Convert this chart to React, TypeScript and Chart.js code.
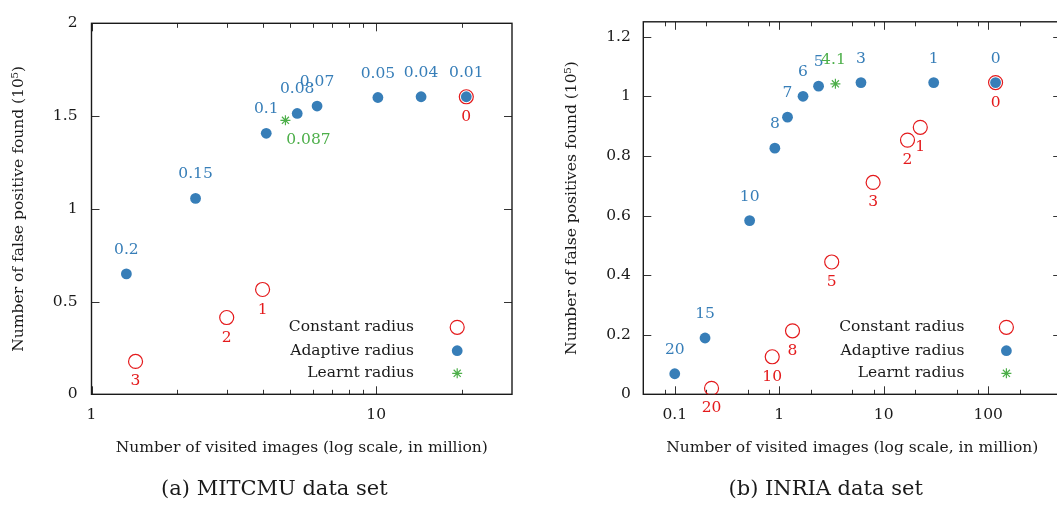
import React, { useEffect, useRef } from 'react';
import { Chart, registerables } from 'chart.js';

Chart.register(...registerables);

const FONT = 'DejaVu Serif';
const BLUE = '#377eb8';
const RED = '#e41a1c';
const GREEN = '#4daf4a';
const INK = '#1a1a1a';

// ---------- (a) MITCMU data set ----------
const aConstLabels = ['3', '2', '1', '0'];
const aConstX = [1.428, 2.985, 3.99, 20.73];
const aConstY = [0.177, 0.414, 0.565, 1.604];

const aAdaptLabels = ['0.2', '0.15', '0.1', '0.08', '0.07', '0.05', '0.04', '0.01'];
const aAdaptX = [1.326, 2.32, 4.11, 5.28, 6.2, 10.14, 14.38, 20.73];
const aAdaptY = [0.649, 1.056, 1.407, 1.514, 1.554, 1.6, 1.604, 1.604];

const aLearntLabels = ['0.087'];
const aLearntX = [4.8];
const aLearntY = [1.477];

const aXMajor = [1, 10];
const aXMinor = [2, 3, 4, 5, 6, 7, 8, 9, 20];
const aYTicks = [0, 0.5, 1, 1.5, 2];

// ---------- (b) INRIA data set ----------
const bConstLabels = ['20', '10', '8', '5', '3', '2', '1', '0'];
const bConstX = [0.225, 0.857, 1.34, 3.18, 7.92, 16.9, 22.4, 117.7];
const bConstY = [0.02, 0.126, 0.213, 0.444, 0.711, 0.853, 0.896, 1.046];

const bAdaptLabels = ['20', '15', '10', '8', '7', '6', '5', '3', '1', '0'];
const bAdaptX = [0.1, 0.195, 0.521, 0.908, 1.2, 1.69, 2.38, 6.06, 30.1, 117.7];
const bAdaptY = [0.069, 0.189, 0.583, 0.826, 0.93, 1.0, 1.034, 1.046, 1.046, 1.046];

const bLearntLabels = ['4.1'];
const bLearntX = [3.45];
const bLearntY = [1.042];

const bXMajor = [0.1, 1, 10, 100];
const bXMinor = [0.08, 0.2, 0.5, 0.8, 2, 5, 8, 20, 50, 80, 200];
const bYTicks = [0, 0.2, 0.4, 0.6, 0.8, 1, 1.2];

const legendNames = ['Constant radius', 'Adaptive radius', 'Learnt radius'];

type Geo = {
  width: number;
  padRight: number;
  yAxisWidth: number;
  yTitlePad: number;
  yTickPad: number;
  xMin: number;
  xMax: number;
  yMax: number;
  legendTextX: number;
  legendSymX: number;
  learntDx: number;
  learntDy: number;
  yTitle: string;
};

const pts = (xs: number[], ys: number[]) => xs.map((x, i) => ({ x, y: ys[i] }));

function drawStar(ctx: CanvasRenderingContext2D, x: number, y: number, r: number) {
  const d = r * Math.SQRT1_2;
  ctx.beginPath();
  ctx.moveTo(x - r, y); ctx.lineTo(x + r, y);
  ctx.moveTo(x, y - r); ctx.lineTo(x, y + r);
  ctx.moveTo(x - d, y - d); ctx.lineTo(x + d, y + d);
  ctx.moveTo(x - d, y + d); ctx.lineTo(x + d, y - d);
  ctx.stroke();
}

function makeConfig(
  g: Geo,
  cX: number[], cY: number[], cL: string[],
  aX: number[], aY: number[], aL: string[],
  lX: number[], lY: number[], lL: string[],
  xMajor: number[], xMinor: number[], yTicks: number[]
): any {
  const series = [
    { labels: cL, color: RED, dx: 0, dy: 20 },
    { labels: aL, color: BLUE, dx: 0, dy: -24 },
    { labels: lL, color: GREEN, dx: g.learntDx, dy: g.learntDy },
  ];
  const decor = {
    id: 'decor',
    beforeDatasetsDraw(chart: any) {
      const ctx = chart.ctx as CanvasRenderingContext2D;
      const { left, right, top, bottom } = chart.chartArea;
      const xs = chart.scales.x;
      const ys = chart.scales.y;
      ctx.save();
      ctx.strokeStyle = '#333';
      ctx.lineWidth = 1;
      ctx.beginPath();
      const vtick = (v: number, len: number) => {
        const px = Math.round(xs.getPixelForValue(v)) + 0.5;
        ctx.moveTo(px, bottom); ctx.lineTo(px, bottom - len);
        ctx.moveTo(px, top); ctx.lineTo(px, top + len);
      };
      xMajor.forEach((v) => vtick(v, 8));
      xMinor.forEach((v) => vtick(v, 4.5));
      yTicks.forEach((v) => {
        const py = Math.round(ys.getPixelForValue(v)) + 0.5;
        ctx.moveTo(left, py); ctx.lineTo(left + 8, py);
        ctx.moveTo(right, py); ctx.lineTo(right - 8, py);
      });
      ctx.stroke();
      ctx.strokeStyle = INK;
      ctx.lineWidth = 1.4;
      ctx.strokeRect(left, top, right - left, bottom - top);
      ctx.restore();
    },
    afterDatasetsDraw(chart: any) {
      const ctx = chart.ctx as CanvasRenderingContext2D;
      ctx.save();
      ctx.font = `15.5px "${FONT}"`;
      ctx.textAlign = 'center';
      ctx.textBaseline = 'middle';
      series.forEach((s, d) => {
        const meta = chart.getDatasetMeta(d);
        meta.data.forEach((el: any, i: number) => {
          ctx.fillStyle = s.color;
          ctx.fillText(s.labels[i], el.x + s.dx, el.y + s.dy);
        });
      });
      // legend
      const rows = [327.3, 350.7, 373.3];
      ctx.textAlign = 'right';
      ctx.fillStyle = INK;
      legendNames.forEach((n, i) => ctx.fillText(n, g.legendTextX, rows[i]));
      ctx.strokeStyle = RED;
      ctx.lineWidth = 1.2;
      ctx.beginPath();
      ctx.arc(g.legendSymX, rows[0], 7, 0, Math.PI * 2);
      ctx.stroke();
      ctx.fillStyle = BLUE;
      ctx.beginPath();
      ctx.arc(g.legendSymX, rows[1], 5.4, 0, Math.PI * 2);
      ctx.fill();
      ctx.strokeStyle = GREEN;
      ctx.lineWidth = 1.2;
      drawStar(ctx, g.legendSymX, rows[2], 5);
      ctx.restore();
    },
  };

  const tickFont = { family: FONT, size: 15.5 };
  return {
    type: 'scatter',
    data: {
      datasets: [
        {
          label: legendNames[0],
          data: pts(cX, cY),
          pointStyle: 'circle',
          pointRadius: 7,
          borderColor: RED,
          backgroundColor: 'rgba(0,0,0,0)',
          borderWidth: 1.2,
        },
        {
          label: legendNames[1],
          data: pts(aX, aY),
          pointStyle: 'circle',
          pointRadius: 5.4,
          borderColor: BLUE,
          backgroundColor: BLUE,
          borderWidth: 0,
        },
        {
          label: legendNames[2],
          data: pts(lX, lY),
          pointStyle: 'star',
          pointRadius: 5,
          borderColor: GREEN,
          backgroundColor: GREEN,
          borderWidth: 1.2,
        },
      ],
    },
    options: {
      responsive: false,
      animation: false,
      devicePixelRatio: 1,
      layout: { padding: { left: 0, top: 14, right: g.padRight, bottom: 0 } },
      plugins: { legend: { display: false }, tooltip: { enabled: false } },
      scales: {
        x: {
          type: 'logarithmic',
          position: 'bottom',
          min: g.xMin,
          max: g.xMax,
          grid: { display: false, drawTicks: false },
          border: { display: false },
          afterBuildTicks: (s: any) => { s.ticks = xMajor.map((v) => ({ value: v })); },
          afterFit: (s: any) => { s.height = 115.7; },
          ticks: {
            padding: 11,
            font: tickFont,
            color: INK,
            maxRotation: 0,
            autoSkip: false,
            callback: (v: any) => String(v),
          },
          title: {
            display: true,
            text: 'Number of visited images (log scale, in million)',
            font: tickFont,
            color: INK,
            padding: { top: 0, bottom: 52.4 },
          },
        },
        y: {
          type: 'linear',
          position: 'left',
          min: 0,
          max: g.yMax,
          grid: { display: false, drawTicks: false },
          border: { display: false },
          afterBuildTicks: (s: any) => { s.ticks = yTicks.map((v) => ({ value: v })); },
          afterFit: (s: any) => { s.width = g.yAxisWidth; },
          ticks: {
            padding: g.yTickPad,
            font: tickFont,
            color: INK,
            autoSkip: false,
            callback: (v: any) => String(v),
          },
          title: {
            display: true,
            text: g.yTitle,
            font: tickFont,
            color: INK,
            padding: { top: g.yTitlePad, bottom: 0 },
          },
        },
      },
    },
    plugins: [decor],
  };
}

const geoA: Geo = {
  width: 530,
  padRight: 18,
  yAxisWidth: 91.5,
  yTitlePad: 9.7,
  yTickPad: 14,
  xMin: 1,
  xMax: 30,
  yMax: 2,
  legendTextX: 414,
  legendSymX: 457.2,
  learntDx: 23,
  learntDy: 20,
  yTitle: 'Number of false positive found (10⁵)',
};

const geoB: Geo = {
  width: 545,
  padRight: 13.8,
  yAxisWidth: 113.3,
  yTitlePad: 32.7,
  yTickPad: 12.5,
  xMin: 0.05,
  xMax: 500,
  yMax: 1.25,
  legendTextX: 434.4,
  legendSymX: 476.4,
  learntDx: -2,
  learntDy: -24,
  yTitle: 'Number of false positives found (10⁵)',
};

export default function App() {
  const refA = useRef<HTMLCanvasElement>(null);
  const refB = useRef<HTMLCanvasElement>(null);

  useEffect(() => {
    const ca = new Chart(
      refA.current as HTMLCanvasElement,
      makeConfig(geoA, aConstX, aConstY, aConstLabels, aAdaptX, aAdaptY, aAdaptLabels,
        aLearntX, aLearntY, aLearntLabels, aXMajor, aXMinor, aYTicks)
    );
    const cb = new Chart(
      refB.current as HTMLCanvasElement,
      makeConfig(geoB, bConstX, bConstY, bConstLabels, bAdaptX, bAdaptY, bAdaptLabels,
        bLearntX, bLearntY, bLearntLabels, bXMajor, bXMinor, bYTicks)
    );
    return () => { ca.destroy(); cb.destroy(); };
  }, []);

  const capStyle: React.CSSProperties = {
    position: 'absolute',
    top: 476,
    width: 320,
    textAlign: 'center',
    fontFamily: FONT,
    fontSize: 21,
    lineHeight: '24px',
    color: INK,
    whiteSpace: 'nowrap',
  };

  return (
    <div style={{ position: 'fixed', left: 0, top: 0, width: 1057, height: 510, overflow: 'hidden', background: '#fff' }}>
      <canvas ref={refA} width={530} height={510} style={{ position: 'absolute', left: 0, top: 0, width: 530, height: 510 }} />
      <canvas ref={refB} width={545} height={510} style={{ position: 'absolute', left: 530, top: 0, width: 545, height: 510 }} />
      <div style={{ ...capStyle, left: 274.4 - 160 }}>(a) MITCMU data set</div>
      <div style={{ ...capStyle, left: 825.7 - 160 }}>(b) INRIA data set</div>
    </div>
  );
}
